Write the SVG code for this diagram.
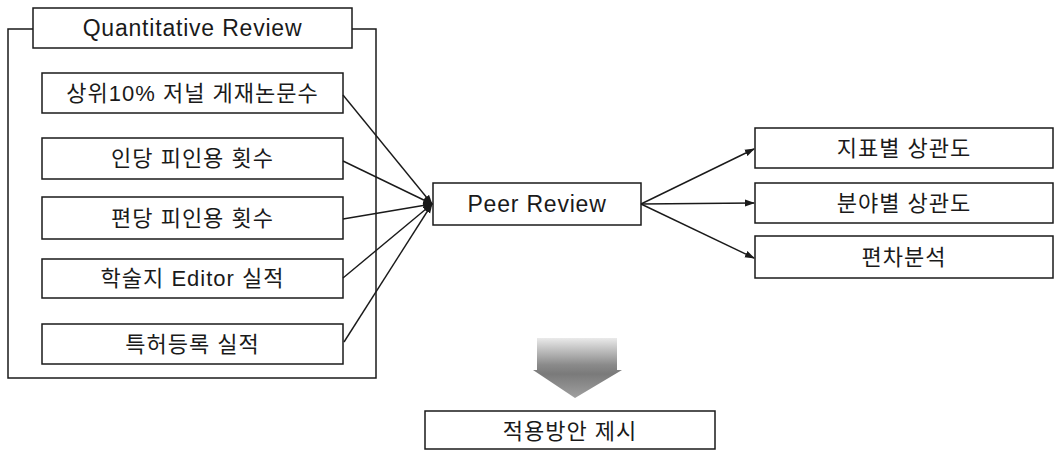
<svg xmlns="http://www.w3.org/2000/svg" width="1055" height="454" viewBox="0 0 1055 454">
<style>
.box{fill:#fff;stroke:#1a1a1a;stroke-width:1.5}
.frame{fill:none;stroke:#1a1a1a;stroke-width:1.5}
.t{font-family:"Liberation Sans","Noto Sans CJK KR",sans-serif;font-size:22px;fill:#1a1a1a;text-anchor:middle;dominant-baseline:central;letter-spacing:1px}
.lat{font-size:23px;letter-spacing:0.8px}
.con{fill:none;stroke:#1a1a1a;stroke-width:1.4}
</style>
<defs>
<marker id="ah" markerWidth="10" markerHeight="8" refX="9" refY="4" orient="auto" markerUnits="userSpaceOnUse">
<path d="M0,0.5 L10,4 L0,7.5 Z" fill="#1a1a1a"/>
</marker>
<linearGradient id="grad" x1="0" y1="0" x2="0" y2="1">
<stop offset="0" stop-color="#eaeaea"/>
<stop offset="0.45" stop-color="#8a8a8a"/>
<stop offset="0.6" stop-color="#7a7a7a"/>
<stop offset="1" stop-color="#a0a0a0"/>
</linearGradient>
</defs>

<g id="quantitative-frame">
<rect class="frame" x="8" y="29" width="368" height="349"/>
</g>
<g id="quantitative-title">
<rect class="box" x="33" y="8" width="319" height="40"/>
<text class="t lat" x="192.5" y="28">Quantitative Review</text>
</g>
<g id="q1">
<rect class="box" x="42" y="73" width="301" height="40"/>
<text class="t" x="192.5" y="93">상위10% 저널 게재논문수</text>
</g>
<g id="q2">
<rect class="box" x="42" y="138" width="301" height="41"/>
<text class="t" x="192.5" y="158.5">인당 피인용 횟수</text>
</g>
<g id="q3">
<rect class="box" x="42" y="197" width="301" height="42"/>
<text class="t" x="192.5" y="218">편당 피인용 횟수</text>
</g>
<g id="q4">
<rect class="box" x="42" y="259" width="301" height="39"/>
<text class="t" x="192.5" y="278.5">학술지 Editor 실적</text>
</g>
<g id="q5">
<rect class="box" x="42" y="324" width="301" height="40"/>
<text class="t" x="192.5" y="344">특허등록 실적</text>
</g>
<g id="peer-review">
<rect class="box" x="433" y="183" width="208" height="42"/>
<text class="t lat" x="537" y="204">Peer Review</text>
</g>
<g id="r1">
<rect class="box" x="755" y="128" width="298" height="40"/>
<text class="t" x="904" y="148">지표별 상관도</text>
</g>
<g id="r2">
<rect class="box" x="755" y="183" width="298" height="40"/>
<text class="t" x="904" y="203">분야별 상관도</text>
</g>
<g id="r3">
<rect class="box" x="755" y="236" width="298" height="42"/>
<text class="t" x="904" y="257">편차분석</text>
</g>
<g id="down-arrow">
<path d="M537,338 L617,338 L617,370 L622,370 L575,398 L533,370 L537,370 Z" fill="url(#grad)"/>
</g>
<g id="result">
<rect class="box" x="425" y="411" width="290" height="38"/>
<text class="t" x="570" y="431">적용방안 제시</text>
</g>

<g id="connectors">
<line class="con" x1="343" y1="95" x2="432" y2="204" marker-end="url(#ah)"/>
<line class="con" x1="343" y1="161" x2="432" y2="204" marker-end="url(#ah)"/>
<line class="con" x1="343" y1="219" x2="432" y2="204" marker-end="url(#ah)"/>
<line class="con" x1="343" y1="278" x2="432" y2="204" marker-end="url(#ah)"/>
<line class="con" x1="344" y1="342" x2="432" y2="204" marker-end="url(#ah)"/>
<line class="con" x1="641" y1="204" x2="754" y2="149" marker-end="url(#ah)"/>
<line class="con" x1="641" y1="204" x2="754" y2="203" marker-end="url(#ah)"/>
<line class="con" x1="641" y1="204" x2="754" y2="258" marker-end="url(#ah)"/>
</g>
</svg>
